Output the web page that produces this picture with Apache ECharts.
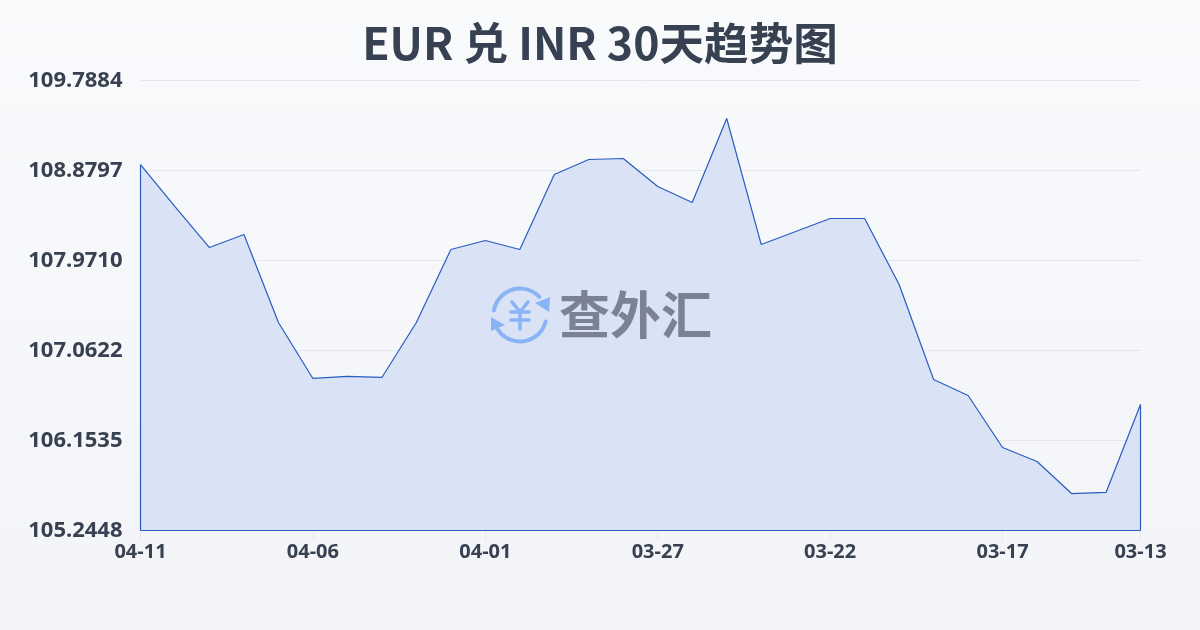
<!DOCTYPE html>
<html><head><meta charset="utf-8">
<style>html,body{margin:0;padding:0;background:#f6f7fa}#c{width:1200px;height:630px}</style>
<script src="https://cdn.jsdelivr.net/npm/echarts@6/dist/echarts.min.js"></script>
</head><body><div id="c"></div>
<script>
const titleText = 'EUR 兑 INR 30天趋势图';
const watermarkText = '查外汇';
const dates = ['04-11','04-10','04-09','04-08','04-07','04-06','04-05','04-04','04-03','04-02','04-01','03-31','03-30','03-29','03-28','03-27','03-26','03-25','03-24','03-23','03-22','03-21','03-20','03-19','03-18','03-17','03-16','03-15','03-14','03-13'];
const rates = [108.940,108.516,108.102,108.234,107.345,106.780,106.800,106.790,107.345,108.082,108.173,108.082,108.839,108.991,109.001,108.718,108.557,109.405,108.133,108.264,108.395,108.395,107.729,106.770,106.608,106.083,105.942,105.618,105.629,106.517];
const yTicks = [105.2448,106.1535,107.0622,107.9710,108.8797,109.7884];
const shownDateIdx = [0,5,10,15,20,25,29];
const lineColor = '#2a5cc0';
const yMin = yTicks[0], yMax = yTicks[yTicks.length-1];
const last = dates.length-1;
const shown = i => shownDateIdx.indexOf(i) >= 0;
const chart = echarts.init(document.getElementById('c'), null, {renderer:'canvas'});
const blue = '#8ab4f6';
const bar = (x1,y1,x2,y2) => ({type:'line',z:10,shape:{x1,y1,x2,y2},style:{stroke:blue,lineWidth:3.6,lineCap:'round'}});
chart.setOption({
  animation:false,
  backgroundColor:new echarts.graphic.LinearGradient(0,0,0,1,[{offset:0,color:'#f9fafc'},{offset:1,color:'#f3f4f7'}]),
  title:{text:titleText,left:'center',top:16,textStyle:{fontFamily:'"Noto Sans CJK SC","Noto Sans",sans-serif',fontSize:44.6,fontWeight:'bold',color:'#374151'}},
  grid:{left:140.5,right:59.5,top:80.5,bottom:99.5,containLabel:false},
  xAxis:{type:'category',boundaryGap:false,data:dates,
    axisLine:{show:false},
    axisTick:{show:true,length:10,interval:(i)=>shown(i),lineStyle:{color:'#e5e7eb',width:1}},
    axisLabel:{interval:(i)=>shown(i),margin:12,showMinLabel:true,showMaxLabel:true,fontFamily:'"Noto Sans","Open Sans",sans-serif',fontSize:20,fontWeight:'bold',color:'#374151'},
    splitLine:{show:false}},
  yAxis:{type:'value',min:yMin,max:yMax,
    axisLine:{show:false},axisTick:{show:false,customValues:yTicks},
    axisLabel:{customValues:yTicks,margin:18,padding:[0,0,2,0],fontFamily:'"Noto Sans","Open Sans",sans-serif',fontSize:22,fontWeight:'bold',color:'#374151',formatter:v=>v.toFixed(4)},
    splitLine:{show:true,lineStyle:{color:'#e5e7eb',width:1}}},
  series:[{type:'line',data:rates,symbol:'none',smooth:false,
    lineStyle:{color:lineColor,width:1.2},
    areaStyle:{color:'#d9e3f5',opacity:1,origin:'start'},
    z:2,
    markLine:{silent:true,symbol:'none',animation:false,label:{show:false},lineStyle:{color:lineColor,width:1.2,type:'solid'},
      data:[
        [{xAxis:dates[0],yAxis:yMin},{xAxis:dates[0],yAxis:rates[0]}],
        [{xAxis:dates[0],yAxis:yMin},{xAxis:dates[last],yAxis:yMin}],
        [{xAxis:dates[last],yAxis:yMin},{xAxis:dates[last],yAxis:rates[last]}]
      ]}
  }],
  graphic:[
    {type:'arc',z:10,shape:{cx:520,cy:315,r:26.5,startAngle:-2.97,endAngle:-0.75},style:{stroke:blue,lineWidth:4,fill:null,lineCap:'round'}},
    {type:'arc',z:10,shape:{cx:520,cy:315,r:26.5,startAngle:0.25,endAngle:2.58},style:{stroke:blue,lineWidth:4,fill:null,lineCap:'round'}},
    {type:'polygon',z:10,shape:{points:[[550,297],[549,312],[535,303]]},style:{fill:blue}},
    {type:'polygon',z:10,shape:{points:[[491,317],[491,331],[505,325]]},style:{fill:blue}},
    bar(512,302,520,312),bar(528,302,520,312),bar(511,312,529,312),bar(511,320,529,320),bar(520,312,520,329),
    {type:'text',z:10,left:559,top:289,style:{text:watermarkText,fontSize:51,fontWeight:'bold',fontFamily:'"Noto Sans CJK SC",sans-serif',fill:'#7a8294'}}
  ]
});
</script></body></html>
